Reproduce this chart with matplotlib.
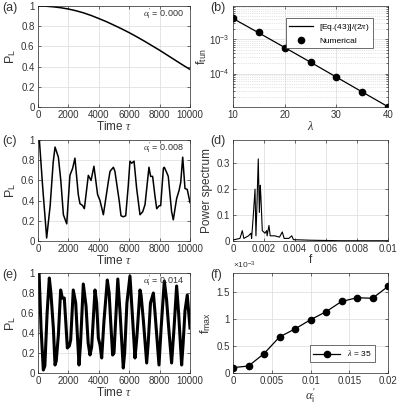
import numpy as np
import matplotlib
matplotlib.use("Agg")
import matplotlib.pyplot as plt

plt.rcParams['font.family'] = ['Liberation Sans', 'DejaVu Sans']
plt.rcParams['mathtext.fontset'] = 'custom'
plt.rcParams['mathtext.rm'] = 'Liberation Sans'
plt.rcParams['mathtext.it'] = 'Liberation Serif:italic'
plt.rcParams['mathtext.bf'] = 'Liberation Sans:bold'
plt.rcParams['lines.solid_joinstyle'] = 'round'

# (a) alpha_i' = 0.000
t_a = [0, 500, 1000, 1500, 2000, 2500, 3000, 3500, 4000, 4500, 5000,
       5500, 6000, 6500, 7000, 7500, 8000, 8500, 9000, 9500, 10000]
p_a = [1.0, 0.998, 0.992, 0.983, 0.970, 0.953, 0.932, 0.906, 0.876, 0.845, 0.810,
       0.774, 0.736, 0.695, 0.652, 0.607, 0.562, 0.514, 0.466, 0.418, 0.372]

# (b) tunnelling frequency vs lambda
lam = [10, 15, 20, 25, 30, 35, 40]
f_tun_eq = [4.1e-3, 1.55e-3, 5.8e-4, 2.15e-4, 7.9e-5, 2.9e-5, 1.07e-5]
f_tun_num = [4.2e-3, 1.6e-3, 5.7e-4, 2.15e-4, 7.8e-5, 2.8e-5, 1.07e-5]

# (c) alpha_i' = 0.008
t_c = [0, 90, 300, 570, 800, 1000, 1120, 1340, 1500, 1670, 1890, 2100, 2280, 2430,
       2650, 2760, 2940, 3050, 3310, 3490, 3680, 3920, 4080, 4300, 4630, 4740, 4960,
       5060, 5350, 5460, 5610, 5770, 5940, 6050, 6160, 6320, 6490, 6710, 6890, 7040,
       7300, 7410, 7540, 7700, 7810, 7980, 8070, 8250, 8310, 8460, 8570, 8790, 8900,
       9120, 9280, 9390, 9520, 9670, 9820, 9960, 10000]
p_c = [1.0, 1.0, 0.55, 0.03, 0.35, 0.78, 0.93, 0.83, 0.6, 0.26, 0.17, 0.65, 0.72, 0.82,
       0.46, 0.37, 0.35, 0.32, 0.65, 0.6, 0.74, 0.46, 0.40, 0.26, 0.59, 0.69, 0.73,
       0.69, 0.39, 0.25, 0.24, 0.25, 0.55, 0.79, 0.77, 0.79, 0.52, 0.26, 0.29, 0.36,
       0.73, 0.64, 0.64, 0.44, 0.32, 0.35, 0.35, 0.72, 0.73, 0.68, 0.64, 0.29, 0.21,
       0.42, 0.50, 0.58, 0.83, 0.52, 0.51, 0.41, 0.38]

# (d) power spectrum
f_d = [0, 0.00045, 0.0006, 0.0007, 0.001, 0.00116, 0.0012, 0.0013, 0.00142, 0.00148,
       0.00155, 0.00163, 0.0017, 0.00176, 0.0018, 0.00189, 0.00206, 0.00217, 0.0022,
       0.00232, 0.0024, 0.0027, 0.003, 0.00318, 0.0033, 0.0036, 0.00379, 0.0039,
       0.0045, 0.005, 0.006, 0.007, 0.008, 0.009, 0.01]
s_d = [0.004, 0.01, 0.04, 0.01, 0.02, 0.03, 0.01, 0.09, 0.20, 0.02,
       0.15, 0.317, 0.11, 0.215, 0.17, 0.04, 0.03, 0.04, 0.02,
       0.06, 0.02, 0.02, 0.015, 0.035, 0.01, 0.01, 0.02, 0.005,
       0.004, 0.003, 0.002, 0.001, 0.001, 0.001, 0.001]

# (e) alpha_i' = 0.014
t_e = [0, 70, 200, 350, 450, 600, 745, 850, 1010, 1120, 1200, 1340, 1490, 1600, 1730,
       1840, 1930, 2060, 2150, 2320, 2480, 2600, 2700, 2800, 2980, 3160, 3300, 3420,
       3530, 3750, 3860, 3970, 4080, 4190, 4340, 4560, 4680, 4780, 4910, 5000, 5100,
       5250, 5400, 5610, 5700, 5850, 6050, 6200, 6380, 6500, 6710, 6780, 6930, 7150,
       7250, 7400, 7590, 7700, 7960, 8100, 8310, 8460, 8600, 8790, 8950, 9120, 9250,
       9450, 9550, 9670, 9820, 10000]
p_e = [1.0, 1.0, 0.45, 0.03, 0.07, 0.6, 0.95, 0.8, 0.45, 0.08, 0.12, 0.38, 0.83, 0.75,
       0.75, 0.48, 0.25, 0.27, 0.33, 0.83, 0.70, 0.35, 0.08, 0.3, 0.89, 0.67, 0.3, 0.18,
       0.26, 0.83, 0.70, 0.35, 0.28, 0.15, 0.52, 0.93, 0.8, 0.52, 0.18, 0.2, 0.5,
       0.94, 0.6, 0.05, 0.2, 0.7, 0.97, 0.6, 0.15, 0.35, 0.83, 0.78, 0.53, 0.10,
       0.3, 0.7, 0.80, 0.6, 0.08, 0.45, 0.92, 0.73, 0.45, 0.10, 0.45, 0.87, 0.6,
       0.08, 0.3, 0.62, 0.78, 0.45]

# (f) f_max vs alpha_i'
alpha_f = [0, 0.002, 0.004, 0.006, 0.008, 0.01, 0.012, 0.014, 0.016, 0.018, 0.02]
fmax = [0.10, 0.13, 0.36, 0.67, 0.82, 0.99, 1.14, 1.33, 1.40, 1.39, 1.61]

W, H = 399, 405
fig = plt.figure(figsize=(W / 100, H / 100), dpi=100)

GRAY = '#333333'


def box(left, top, right, bottom):
    return [left / W, 1 - bottom / H, (right - left) / W, (bottom - top) / H]


def style(ax):
    ax.tick_params(direction='in', top=True, right=True, labelsize=7, length=2.5,
                   width=0.5, pad=2.5, colors=GRAY)
    for s in ax.spines.values():
        s.set_linewidth(0.5)
        s.set_color('#262626')
    ax.grid(True, color='#e0e0e0', lw=0.6)
    ax.set_axisbelow(True)


alpha_lab = r"$\alpha_{\mathrm{i}}'$"

ax_a = fig.add_axes(box(38, 6, 190, 107))
ax_b = fig.add_axes(box(233, 6, 388, 107))
ax_c = fig.add_axes(box(38, 140, 190, 241))
ax_d = fig.add_axes(box(233, 140, 388, 241))
ax_e = fig.add_axes(box(38, 273, 190, 373))
ax_f = fig.add_axes(box(233, 273, 388, 373))

for ax, t, p, lw, lab in [(ax_a, t_a, p_a, 1.1, '0.000'),
                          (ax_c, t_c, p_c, 1.1, '0.008'),
                          (ax_e, t_e, p_e, 2.2, '0.014')]:
    style(ax)
    ax.plot(t, p, color='black', lw=lw)
    ax.set_xlim(0, 10000)
    ax.set_ylim(0, 1)
    ax.set_xticks([0, 2000, 4000, 6000, 8000, 10000])
    ax.set_xticklabels(['0', '2000', '4000', '6000', '8000', '10000'])
    ax.set_yticks([0, 0.2, 0.4, 0.6, 0.8, 1])
    ax.set_yticklabels(['0', '0.2', '0.4', '0.6', '0.8', '1'])
    ax.set_xlabel(r'Time $\tau$', fontsize=8.5, labelpad=0, color=GRAY)
    ax.set_ylabel(r'P$_{\mathrm{L}}$', fontsize=9, labelpad=2, color=GRAY)
    ax.text(0.96, 0.92, alpha_lab + ' = ' + lab, transform=ax.transAxes,
            ha='right', va='center', fontsize=6.5, color='#333333')

# (b)
style(ax_b)
ax_b.set_yscale('log')
ax_b.plot(lam, f_tun_eq, color='black', lw=0.9, label=r'[Eq.(43)]/(2$\pi$)')
ax_b.plot(lam, f_tun_num, 'o', color='black', ms=4.5, label='Numerical')
ax_b.set_xlim(10, 40)
ax_b.set_ylim(1.05e-5, 9.5e-3)
ax_b.set_xticks([10, 20, 30, 40])
ax_b.grid(True, which='minor', axis='y', color='#cccccc', lw=0.5, ls=':')
ax_b.tick_params(which='minor', direction='in', length=1.5, width=0.4, right=True)
ax_b.set_xlabel(r'$\lambda$', fontsize=9, labelpad=0, color=GRAY)
ax_b.set_ylabel(r'f$_{\mathrm{tun}}$', fontsize=9, labelpad=0, color=GRAY)
leg = ax_b.legend(loc='upper right', bbox_to_anchor=(0.93, 0.92), fontsize=6,
                  frameon=True, fancybox=False, edgecolor=GRAY, framealpha=1,
                  handlelength=2.8, borderpad=0.4, labelspacing=0.5)
leg.get_frame().set_linewidth(0.5)

# (d)
style(ax_d)
ax_d.plot(f_d, s_d, color='black', lw=0.8)
ax_d.set_xlim(0, 0.01)
ax_d.set_ylim(0, 0.39)
ax_d.set_xticks([0, 0.002, 0.004, 0.006, 0.008, 0.01])
ax_d.set_xticklabels(['0', '0.002', '0.004', '0.006', '0.008', '0.01'])
ax_d.set_yticks([0, 0.1, 0.2, 0.3])
ax_d.set_yticklabels(['0', '0.1', '0.2', '0.3'])
ax_d.set_xlabel('f', fontsize=8.5, labelpad=0, color=GRAY)
ax_d.set_ylabel('Power spectrum', fontsize=8.5, labelpad=2, color=GRAY)

# (f)
style(ax_f)
ax_f.plot(alpha_f, fmax, '-o', color='black', lw=0.9, ms=4.5, label=r'$\lambda$ = 35')
ax_f.set_xlim(0, 0.02)
ax_f.set_ylim(0, 1.86)
ax_f.set_xticks([0, 0.005, 0.01, 0.015, 0.02])
ax_f.set_xticklabels(['0', '0.005', '0.01', '0.015', '0.02'])
ax_f.set_yticks([0, 0.5, 1, 1.5])
ax_f.set_yticklabels(['0', '0.5', '1', '1.5'])
ax_f.set_xlabel(alpha_lab, fontsize=9, labelpad=0, color=GRAY)
ax_f.set_ylabel(r'f$_{\mathrm{max}}$', fontsize=9, labelpad=2, color=GRAY)
ax_f.text(0.0, 1.02, r'$\times\mathrm{10^{-3}}$', transform=ax_f.transAxes, fontsize=6,
          ha='left', va='bottom', color=GRAY)
leg = ax_f.legend(loc='lower right', bbox_to_anchor=(0.94, 0.07), fontsize=6,
                  frameon=True, fancybox=False, edgecolor=GRAY, framealpha=1,
                  handlelength=3.2, borderpad=0.4)
leg.get_frame().set_linewidth(0.5)

# panel letters
for lab, x, y in [('(a)', 2, 8), ('(b)', 210, 8), ('(c)', 2, 141),
                  ('(d)', 210, 141), ('(e)', 2, 275), ('(f)', 210, 275)]:
    fig.text(x / W, 1 - y / H, lab, fontsize=9, ha='left', va='center', color=GRAY)

fig.savefig('out.png', dpi=100)
